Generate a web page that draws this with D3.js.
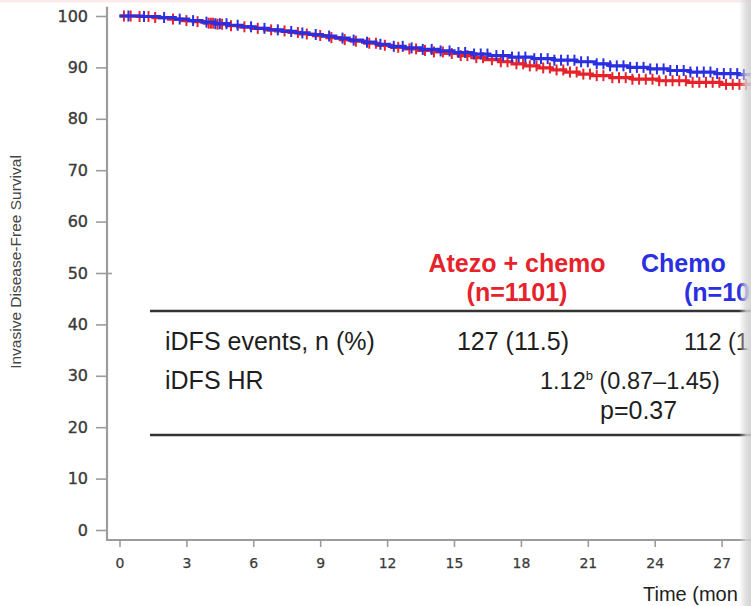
<!DOCTYPE html>
<html>
<head>
<meta charset="utf-8">
<script src="https://cdn.jsdelivr.net/npm/d3@7"></script>
<style>
  html, body { margin: 0; padding: 0; background: #fff; }
  svg { display: block; }
</style>
</head>
<body>
<svg id="chart" width="751" height="606"></svg>
<script>
// Kaplan–Meier step points: survival (%) after each event time (months)
const atezoTimes = [0, 0.8, 1.5, 2.2, 2.8, 3.3, 3.8, 4.3, 4.8, 5.3, 5.9, 6.5, 7.0, 7.6, 8.1, 8.7, 9.3, 9.9, 10.4, 11.0, 11.6, 12.2, 12.8, 13.4, 14.0, 14.6, 15.2, 15.8, 16.4, 17.0, 17.6, 18.2, 18.8, 19.4, 20.0, 20.6, 21.2, 22.0, 23.0, 24.2, 25.5, 27.0];
const atezoSurv  = [100, 99.9, 99.7, 99.4, 99.1, 98.9, 98.6, 98.4, 98.1, 97.9, 97.6, 97.3, 97.1, 96.8, 96.5, 96.2, 95.8, 95.4, 95.1, 94.7, 94.3, 93.9, 93.6, 93.3, 93.0, 92.7, 92.3, 91.9, 91.5, 91.1, 90.7, 90.3, 89.9, 89.5, 89.1, 88.7, 88.4, 88.0, 87.7, 87.4, 87.1, 86.7];
const atezoCensored = [0.2, 0.5, 0.9, 1.3, 1.6, 2.4, 3.0, 3.5, 4.0, 4.1, 4.2, 4.4, 4.6, 5.0, 5.6, 6.2, 6.8, 7.4, 8.0, 8.4, 9.0, 9.5, 10.1, 10.6, 11.2, 11.5, 11.9, 12.5, 13.0, 13.3, 13.7, 14.1, 14.5, 14.9, 15.3, 15.6, 16.0, 16.3, 16.7, 17.1, 17.4, 17.8, 18.1, 18.4, 18.7, 19.0, 19.3, 19.6, 19.9, 20.2, 20.5, 20.8, 21.1, 21.4, 21.7, 22.1, 22.4, 22.7, 23.0, 23.3, 23.6, 23.9, 24.2, 24.5, 24.8, 25.1, 25.4, 25.7, 26.0, 26.3, 26.6, 26.9, 27.2, 27.5, 27.8, 28.1];

const chemoTimes = [0, 1.0, 1.8, 2.5, 3.1, 3.7, 4.3, 4.9, 5.5, 6.1, 6.7, 7.3, 7.9, 8.5, 9.1, 9.7, 10.3, 10.9, 11.5, 12.1, 12.8, 13.5, 14.3, 15.0, 15.8, 16.6, 17.5, 18.5, 19.5, 20.5, 21.3, 22.0, 22.8, 23.7, 24.6, 25.6, 26.7, 27.8];
const chemoSurv  = [100, 99.9, 99.7, 99.4, 99.1, 98.8, 98.5, 98.2, 97.9, 97.6, 97.3, 97.0, 96.7, 96.4, 96.1, 95.7, 95.3, 94.9, 94.5, 94.1, 93.8, 93.5, 93.2, 92.9, 92.6, 92.3, 92.0, 91.7, 91.4, 91.1, 90.7, 90.3, 90.0, 89.7, 89.4, 89.1, 88.8, 88.6];
const chemoCensored = [0.4, 1.1, 2.0, 2.7, 3.3, 3.9, 4.3, 4.5, 4.8, 5.3, 5.9, 6.5, 7.1, 7.7, 8.2, 8.8, 9.4, 10.0, 10.5, 11.1, 11.7, 12.3, 12.7, 13.1, 13.6, 14.0, 14.4, 14.8, 15.2, 15.5, 15.9, 16.2, 16.5, 16.9, 17.2, 17.6, 17.9, 18.2, 18.6, 18.9, 19.2, 19.5, 19.8, 20.1, 20.4, 20.7, 21.0, 21.4, 21.7, 22.0, 22.3, 22.6, 22.9, 23.2, 23.5, 23.8, 24.1, 24.4, 24.7, 25.0, 25.3, 25.6, 25.9, 26.2, 26.5, 26.8, 27.1, 27.4, 27.7, 28.0];

const followUpEnd = 28.6;

// Axis ticks
const xTicks = [0, 3, 6, 9, 12, 15, 18, 21, 24, 27];
const yTicks = [0, 10, 20, 30, 40, 50, 60, 70, 80, 90, 100];

// Summary table (the page ends mid-way through the second arm's column)
const armNames   = ["Atezo + chemo", "Chemo"];
const armN       = ["(n=1101)", "(n=10"];
const armEvents  = ["127 (11.5)", "112 (1"];
const rowLabels  = ["iDFS events, n (%)", "iDFS HR"];
const hrValue = "1.12", hrSup = "b", hrCI = " (0.87\u20131.45)", pValue = "p=0.37";
const xTitle = "Time (mon";
const yTitle = "Invasive Disease-Free Survival";

const RED = "#e6222b";
const BLUE = "#2a2fe0";

const svg = d3.select("#chart");

const x = d3.scaleLinear().domain([0, 27]).range([119.5, 721.6]);
const y = d3.scaleLinear().domain([0, 100]).range([530, 16]);

// faint strip along the top edge
svg.append("rect").attr("x", 0).attr("y", 0).attr("width", 751).attr("height", 2.5)
  .attr("fill", "#fbeaea");

// Axes
const axisColor = "#9c9c9c";
const xLeft = x(-0.56), yBottom = y(-1.95);

const gy = svg.append("g").attr("transform", `translate(${xLeft},0)`)
  .call(d3.axisLeft(y).tickValues(yTicks).tickSize(11).tickPadding(8));
gy.select(".domain").remove();
gy.selectAll(".tick line").attr("stroke", axisColor).attr("stroke-width", 1.6);
gy.selectAll(".tick").filter(d => d === 50).select("line").attr("x2", -11).attr("x1", 5);
gy.selectAll(".tick text").attr("font-family", "DejaVu Sans, sans-serif")
  .attr("font-size", 16).attr("fill", "#3a3a3a")
  .attr("stroke", "#3a3a3a").attr("stroke-width", 0.35);

const gx = svg.append("g").attr("transform", `translate(0,${yBottom})`)
  .call(d3.axisBottom(x).tickValues(xTicks).tickSize(7).tickPadding(11));
gx.select(".domain").remove();
gx.selectAll(".tick line").attr("stroke", axisColor).attr("stroke-width", 1.6);
gx.selectAll(".tick text").attr("font-family", "DejaVu Sans, sans-serif")
  .attr("font-size", 14).attr("fill", "#3a3a3a")
  .attr("stroke", "#3a3a3a").attr("stroke-width", 0.25);

svg.append("line").attr("x1", xLeft).attr("x2", xLeft)
  .attr("y1", y(101.8)).attr("y2", yBottom)
  .attr("stroke", axisColor).attr("stroke-width", 2.2);
svg.append("line").attr("x1", xLeft - 1).attr("x2", 751)
  .attr("y1", yBottom).attr("y2", yBottom)
  .attr("stroke", axisColor).attr("stroke-width", 2.2);

// Axis titles
svg.append("text")
  .attr("transform", `translate(21,${(y(100) + y(0)) / 2 - 11}) rotate(-90)`)
  .attr("text-anchor", "middle")
  .attr("font-family", "Liberation Sans, Arial, sans-serif")
  .attr("font-size", 15.5).attr("fill", "#444")
  .text(yTitle);

svg.append("text")
  .attr("x", 643).attr("y", 601)
  .attr("font-family", "Liberation Sans, Arial, sans-serif")
  .attr("font-size", 20).attr("fill", "#222")
  .text(xTitle);

// Survival curves with censor marks
function drawArm(times, surv, censored, color) {
  const pts = times.map((t, i) => [t, surv[i]]);
  pts.push([followUpEnd, surv[surv.length - 1]]);
  const line = d3.line().x(d => x(d[0])).y(d => y(d[1])).curve(d3.curveStepAfter);
  svg.append("path").datum(pts)
    .attr("fill", "none").attr("stroke", color).attr("stroke-width", 3.2)
    .attr("d", line);

  const survAt = t => {
    const i = d3.bisectRight(times, t) - 1;
    return surv[Math.max(0, i)];
  };
  const g = svg.append("g").attr("stroke", color).attr("stroke-width", 2);
  censored.forEach(t => {
    const cx = x(t), cy = y(survAt(t));
    g.append("line").attr("x1", cx).attr("x2", cx).attr("y1", cy - 5.5).attr("y2", cy + 5.5);
    g.append("line").attr("x1", cx - 4).attr("x2", cx + 4).attr("y1", cy).attr("y2", cy);
  });
}
drawArm(atezoTimes, atezoSurv, atezoCensored, RED);
drawArm(chemoTimes, chemoSurv, chemoCensored, BLUE);

// Table
const tf = "Liberation Sans, Arial, sans-serif";
const hdr = svg.append("g").attr("font-family", tf).attr("font-weight", "bold").attr("font-size", 25);
hdr.append("text").attr("x", 517).attr("y", 272).attr("text-anchor", "middle").attr("fill", RED).text(armNames[0]);
hdr.append("text").attr("x", 517).attr("y", 301).attr("text-anchor", "middle").attr("fill", RED).text(armN[0]);
hdr.append("text").attr("x", 641).attr("y", 272).attr("fill", BLUE).text(armNames[1]);
hdr.append("text").attr("x", 684).attr("y", 301).attr("fill", BLUE).text(armN[1]);

svg.append("line").attr("x1", 150).attr("x2", 751).attr("y1", 311).attr("y2", 311)
  .attr("stroke", "#333").attr("stroke-width", 2.5);
svg.append("line").attr("x1", 150).attr("x2", 751).attr("y1", 435).attr("y2", 435)
  .attr("stroke", "#333").attr("stroke-width", 2.5);

const body = svg.append("g").attr("font-family", tf).attr("font-size", 25).attr("fill", "#1e1e1e");
body.append("text").attr("x", 165).attr("y", 350).text(rowLabels[0]);
body.append("text").attr("x", 513).attr("y", 350).attr("text-anchor", "middle").text(armEvents[0]);
body.append("text").attr("x", 684).attr("y", 350).attr("font-size", 23.5).text(armEvents[1]);
body.append("text").attr("x", 165).attr("y", 389).text(rowLabels[1]);
const hr = body.append("text").attr("x", 540).attr("y", 389).attr("font-size", 23.5);
hr.append("tspan").text(hrValue);
hr.append("tspan").attr("font-size", 13).attr("dy", -9).text(hrSup);
hr.append("tspan").attr("dy", 9).text(hrCI);
body.append("text").attr("x", 600).attr("y", 419).text(pValue);

// soft grey edge along the right side
const grad = svg.append("defs").append("linearGradient").attr("id", "edge")
  .attr("x1", "0%").attr("x2", "100%");
grad.append("stop").attr("offset", "0%").attr("stop-color", "#d6d6d6").attr("stop-opacity", 0);
grad.append("stop").attr("offset", "60%").attr("stop-color", "#d6d6d6").attr("stop-opacity", 0.8);
grad.append("stop").attr("offset", "100%").attr("stop-color", "#cfcfcf").attr("stop-opacity", 0.9);
svg.append("rect").attr("x", 739).attr("y", 0).attr("width", 12).attr("height", 606)
  .attr("fill", "url(#edge)");
</script>
</body>
</html>
